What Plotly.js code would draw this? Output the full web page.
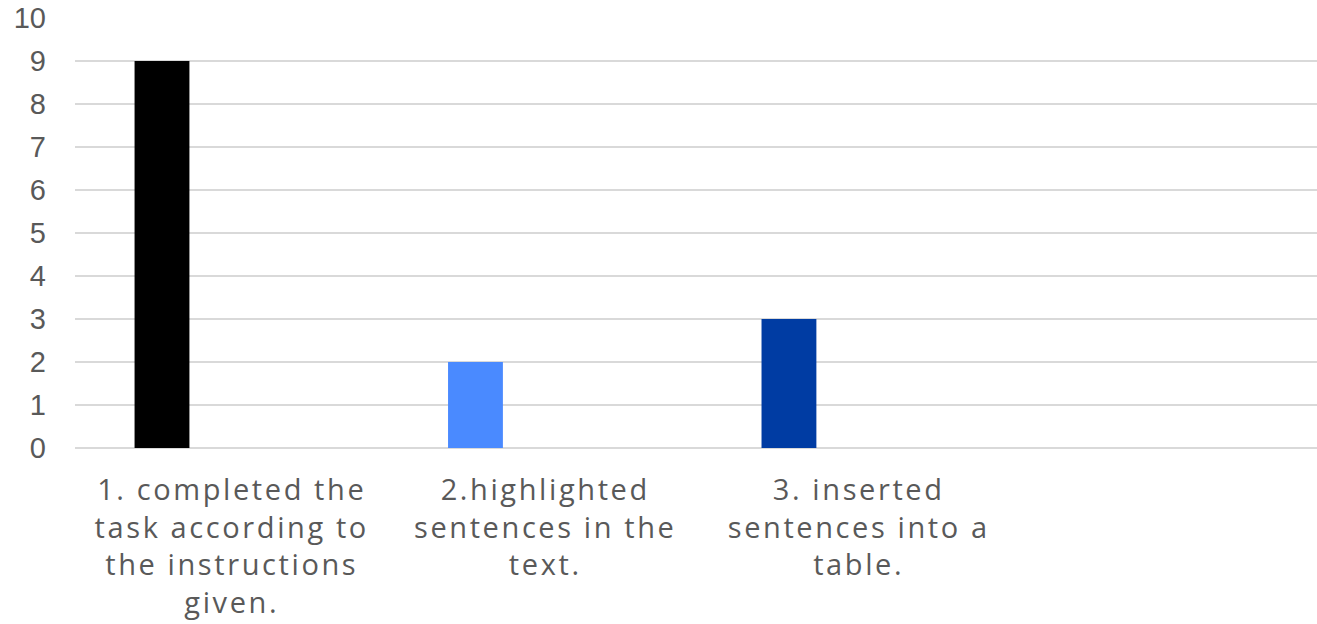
<!DOCTYPE html>
<html>
<head>
<meta charset="utf-8">
<script src="https://cdn.plot.ly/plotly-3.0.1.min.js"></script>
<style>
html,body{margin:0;padding:0;background:#fff;}
#chart{width:1317px;height:624px;}
#chart .xtick text{letter-spacing:2.6px;}
</style>
</head>
<body>
<div id="chart"></div>
<script>
const categories = [
  "1. completed the<br>task according to<br>the instructions<br>given.",
  "2.highlighted<br>sentences in the<br>text.",
  "3. inserted<br>sentences into a<br>table."
];
const values = [9, 2, 3];
const barColors = ["#000000", "#4a8aff", "#003ca3"];
const yTicks = [0, 1, 2, 3, 4, 5, 6, 7, 8, 9, 10];

const trace = {
  type: "bar",
  x: categories,
  y: values,
  marker: {color: barColors},
  width: 0.175,
  offset: -0.31,
  hoverinfo: "x+y"
};

const layout = {
  width: 1317,
  height: 624,
  margin: {l: 75, r: 0, t: 18, b: 176},
  paper_bgcolor: "#ffffff",
  plot_bgcolor: "#ffffff",
  showlegend: false,
  xaxis: {
    type: "category",
    range: [-0.5, 3.462],
    showgrid: false,
    zeroline: false,
    showline: false,
    ticks: "",
    ticklabelstandoff: 22,
    tickfont: {family: "'Open Sans', Lato, sans-serif", size: 29, color: "#595959"}
  },
  yaxis: {
    range: [0, 10],
    tickvals: yTicks,
    ticktext: yTicks.map(String),
    showgrid: true,
    gridcolor: "#d9d9d9",
    gridwidth: 2,
    zeroline: true,
    zerolinecolor: "#d9d9d9",
    zerolinewidth: 2,
    showline: false,
    ticks: "",
    ticklabelstandoff: 28,
    tickfont: {family: "'Liberation Sans', Arial, sans-serif", size: 29, color: "#595959"}
  }
};

Plotly.newPlot("chart", [trace], layout, {displayModeBar: false, staticPlot: true});
</script>
</body>
</html>
